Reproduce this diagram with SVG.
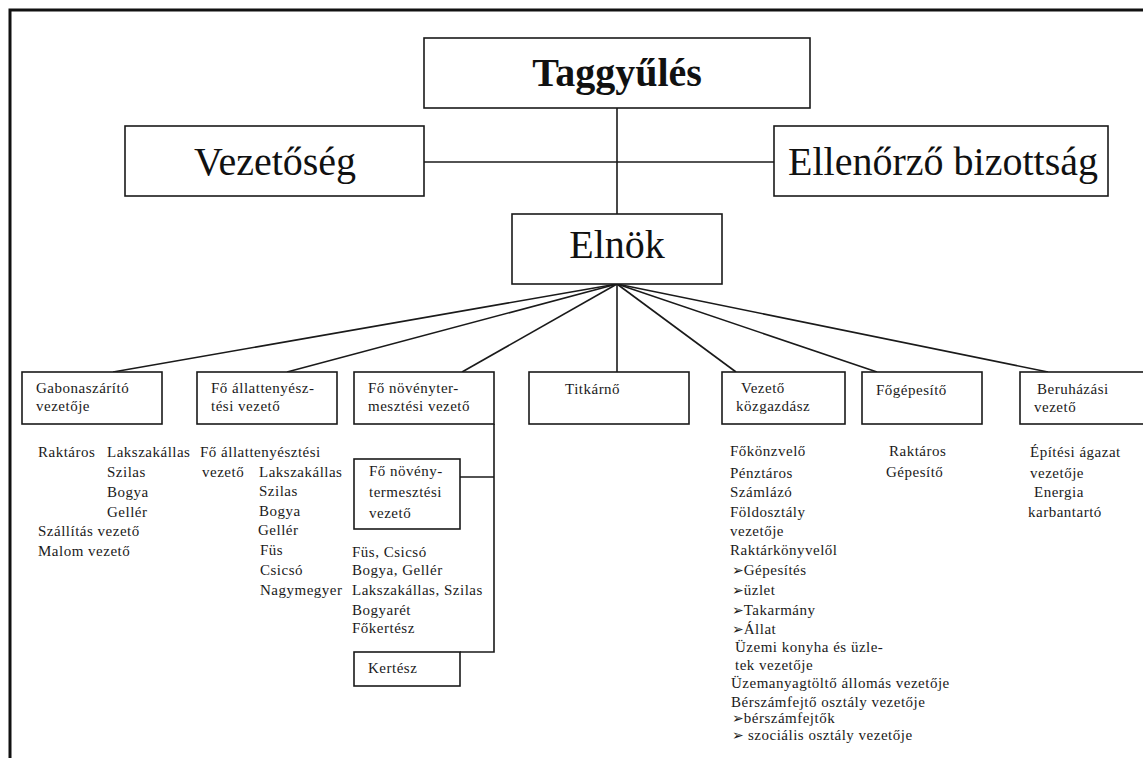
<svg xmlns="http://www.w3.org/2000/svg" width="1143" height="758" viewBox="0 0 1143 758">
<style>
.box{fill:#fff;stroke:#1a1a1a;stroke-width:1.6}
.big{font-family:"Liberation Serif",serif;font-size:40px;fill:#111;text-anchor:middle}
.t{font-family:"Liberation Serif",serif;font-size:15px;fill:#1a1a1a;letter-spacing:0.5px}
.ar{font-family:"DejaVu Sans",sans-serif;font-size:14px;font-weight:bold;letter-spacing:0}
.ln{stroke:#1a1a1a;stroke-width:1.6;fill:none}
</style>
<rect width="1143" height="758" fill="#fff"/>
<path d="M10,758 V10 H1143" fill="none" stroke="#111" stroke-width="3"/>
<g id="connectors">
<line class="ln" x1="617" y1="108" x2="617" y2="214"/>
<line class="ln" x1="424" y1="162" x2="774" y2="162"/>
<line class="ln" x1="617" y1="284" x2="113" y2="372"/>
<line class="ln" x1="617" y1="284" x2="287" y2="372"/>
<line class="ln" x1="617" y1="284" x2="462" y2="372"/>
<line class="ln" x1="617" y1="284" x2="617" y2="372"/>
<line class="ln" x1="617" y1="284" x2="736" y2="372"/>
<line class="ln" x1="617" y1="284" x2="877" y2="372"/>
<line class="ln" x1="617" y1="284" x2="1048" y2="372"/>
<polyline class="ln" points="494,424 494,652 460,652"/>
<line class="ln" x1="460" y1="477" x2="494" y2="477"/>
</g>
<g id="taggyules">
<rect class="box" x="424" y="38" width="386" height="70"/>
<text class="big" x="617" y="86" font-weight="bold" font-size="38">Taggyűlés</text>
</g>
<g id="vezetoseg">
<rect class="box" x="125" y="126" width="299" height="70"/>
<text class="big" x="275" y="175">Vezetőség</text>
</g>
<g id="ellenorzo">
<rect class="box" x="774" y="126" width="334" height="70"/>
<text class="big" x="943" y="175">Ellenőrző bizottság</text>
</g>
<g id="elnok">
<rect class="box" x="512" y="214" width="210" height="70"/>
<text class="big" x="617" y="258">Elnök</text>
</g>
<g id="gabonaszarito">
<rect class="box" x="22" y="372" width="140" height="52"/>
<text class="t" x="36" y="393">Gabonaszárító</text>
<text class="t" x="36" y="411">vezetője</text>
<text class="t" x="38" y="457">Raktáros</text>
<text class="t" x="107" y="457">Lakszakállas</text>
<text class="t" x="107" y="477">Szilas</text>
<text class="t" x="107" y="497">Bogya</text>
<text class="t" x="107" y="517">Gellér</text>
<text class="t" x="38" y="536">Szállítás vezető</text>
<text class="t" x="38" y="556">Malom vezető</text>
</g>
<g id="allattenyesztesi">
<rect class="box" x="197" y="372" width="140" height="52"/>
<text class="t" x="211" y="393">Fő állattenyész-</text>
<text class="t" x="211" y="411">tési vezető</text>
<text class="t" x="200" y="457">Fő állattenyésztési</text>
<text class="t" x="202" y="477">vezető</text>
<text class="t" x="259" y="477">Lakszakállas</text>
<text class="t" x="259" y="496">Szilas</text>
<text class="t" x="259" y="516">Bogya</text>
<text class="t" x="258" y="535">Gellér</text>
<text class="t" x="260" y="555">Füs</text>
<text class="t" x="260" y="575">Csicsó</text>
<text class="t" x="260" y="595">Nagymegyer</text>
</g>
<g id="novenytermesztesi">
<rect class="box" x="354" y="372" width="140" height="52"/>
<text class="t" x="368" y="393">Fő növényter-</text>
<text class="t" x="368" y="411">mesztési vezető</text>
</g>
<g id="novenytermesztesi2">
<rect class="box" x="354" y="459" width="106" height="70"/>
<text class="t" x="369" y="476">Fő növény-</text>
<text class="t" x="369" y="497">termesztési</text>
<text class="t" x="369" y="518">vezető</text>
<text class="t" x="352" y="557">Füs, Csicsó</text>
<text class="t" x="352" y="575">Bogya,  Gellér</text>
<text class="t" x="352" y="595">Lakszakállas, Szilas</text>
<text class="t" x="352" y="615">Bogyarét</text>
<text class="t" x="352" y="633">Főkertész</text>
</g>
<g id="kertesz">
<rect class="box" x="354" y="652" width="106" height="34"/>
<text class="t" x="368" y="673">Kertész</text>
</g>
<g id="titkarno">
<rect class="box" x="529" y="372" width="160" height="52"/>
<text class="t" x="565" y="394">Titkárnő</text>
</g>
<g id="kozgazdasz">
<rect class="box" x="722" y="372" width="123" height="52"/>
<text class="t" x="741" y="393">Vezető</text>
<text class="t" x="736" y="411">közgazdász</text>
<text class="t" x="730" y="456">Főkönzvelő</text>
<text class="t" x="730" y="478">Pénztáros</text>
<text class="t" x="730" y="497">Számlázó</text>
<text class="t" x="730" y="517">Földosztály</text>
<text class="t" x="730" y="536">vezetője</text>
<text class="t" x="730" y="555">Raktárkönyvelől</text>
<text class="t" x="732" y="575"><tspan class="ar">➢</tspan>Gépesítés</text>
<text class="t" x="732" y="595"><tspan class="ar">➢</tspan>üzlet</text>
<text class="t" x="732" y="615"><tspan class="ar">➢</tspan>Takarmány</text>
<text class="t" x="732" y="634"><tspan class="ar">➢</tspan>Állat</text>
<text class="t" x="735" y="652">Üzemi konyha és üzle-</text>
<text class="t" x="735" y="670">tek vezetője</text>
<text class="t" x="731" y="688">Üzemanyagtöltő állomás vezetője</text>
<text class="t" x="731" y="707">Bérszámfejtő osztály vezetője</text>
<text class="t" x="732" y="723"><tspan class="ar">➢</tspan>bérszámfejtők</text>
<text class="t" x="732" y="740"><tspan class="ar">➢</tspan> szociális osztály vezetője</text>
</g>
<g id="fogepesito">
<rect class="box" x="862" y="372" width="120" height="52"/>
<text class="t" x="876" y="395">Főgépesítő</text>
<text class="t" x="889" y="456">Raktáros</text>
<text class="t" x="886" y="477">Gépesítő</text>
</g>
<g id="beruhazasi">
<rect class="box" x="1020" y="372" width="125" height="52"/>
<text class="t" x="1037" y="394">Beruházási</text>
<text class="t" x="1034" y="412">vezető</text>
<text class="t" x="1030" y="457">Építési ágazat</text>
<text class="t" x="1030" y="478">vezetője</text>
<text class="t" x="1034" y="497">Energia</text>
<text class="t" x="1028" y="517">karbantartó</text>
</g>
</svg>
